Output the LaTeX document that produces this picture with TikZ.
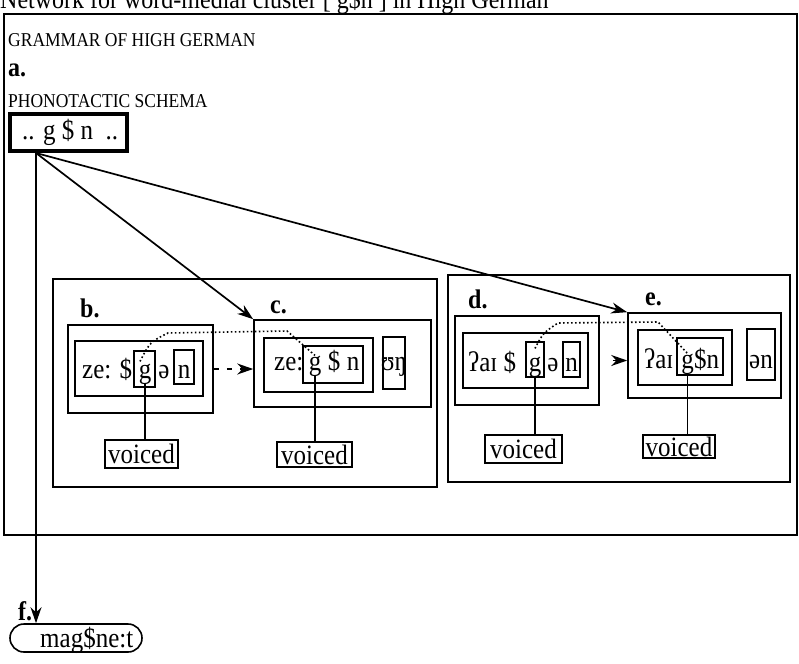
\documentclass[tikz,border=0pt]{standalone}
\usepackage{fontspec}
\setmainfont{Liberation Serif}
\usepackage{graphicx}
\usetikzlibrary{arrows.meta,fit,calc}
\newcommand{\vs}[1]{\scalebox{1}[1.12]{#1}}
\tikzset{
  bx/.style={draw, line width=1.6pt, inner sep=0pt},
  txt/.style={inner sep=0pt, anchor=base, font=\fontsize{25}{28}\selectfont},
  txtw/.style={txt, anchor=base west},
  small/.style={inner sep=0pt, anchor=base west, font=\fontsize{17.5}{20}\selectfont},
  lbl/.style={inner sep=0pt, anchor=base west, font=\fontsize{24}{28}\selectfont\bfseries},
  arr/.style={-{Stealth[length=16pt,width=11pt]}, line width=1.7pt},
  dots/.style={line width=1.6pt, dash pattern=on 1.6pt off 2.4pt},
  link/.style={line width=1.6pt},
  vbox/.style={bx, font=\fontsize{25}{28}\selectfont}
}
\begin{document}
\begin{tikzpicture}[x=1pt,y=-1pt]
\useasboundingbox (0,0) rectangle (799,663);
% title (cut off at top, as in the reference)
\node[inner sep=0pt, anchor=base west, font=\fontsize{24}{28}\selectfont] (title) at (0,9) {\vs{Network for word-medial cluster [ g\$n ] in High German}};
% grammar box
\node[bx, fit={(4,14) (797,535)}] (grammar) {};
\node[small] (gt) at (8,47) {\vs{GRAMMAR OF HIGH GERMAN}};
\node[lbl] (la) at (8,77) {\vs{a.}};
\node[small] (pst) at (8,108) {\vs{PHONOTACTIC SCHEMA}};
\node[draw, line width=4pt, inner sep=0pt, fit={(10,114) (127,151)}] (ph) {};
\node[txtw] (pht) at (22,140) {\vs{.. g \$ n\ \ ..}};
% groups
\node[bx, fit={(53,279) (437,487)}] (G1) {};
\node[bx, fit={(448,275) (790,482)}] (G2) {};
% b
\node[lbl] (lb) at (80,317) {\vs{b.}};
\node[bx, fit={(68,325) (213,413)}] (bO) {};
\node[bx, fit={(75,341) (203,396)}] (bI) {};
\node[bx, fit={(134,351) (155,387)}] (bgbox) {};
\node[bx, fit={(174,350) (194,384)}] (bnbox) {};
\node[txtw] (bze) at (82,378) {\vs{ze: \$}};
\node[txt] (gB) at (145,378) {\vs{g}};
\node[txt] (bschwa) at (164,378) {\vs{ə}};
\node[txt] (bn) at (184,378) {\vs{n}};
\node[vbox, fit={(105,440) (178,468)}] (vB) {};
\node[txt, anchor=center] (vBt) at (vB.center) {\vs{voiced}};
% c
\node[lbl] (lc) at (270,313) {\vs{c.}};
\node[bx, fit={(254,320) (431,407)}] (cO) {};
\node[bx, fit={(264,338) (373,392)}] (cI) {};
\node[bx, fit={(303,346) (363,383)}] (cgbox) {};
\node[bx, fit={(383,337) (405,389)}] (cubox) {};
\node[txtw] (cze) at (274,370) {\vs{ze:}};
\node[txt] (gC) at (315,370) {\vs{g}};
\node[txt] (cdol) at (334,370) {\vs{\$}};
\node[txt] (cn) at (353,370) {\vs{n}};
\node[txt] (cun) at (394,370) {\vs{ʊŋ}};
\node[vbox, fit={(277,442) (352,467)}] (vC) {};
\node[txt, anchor=center] (vCt) at (vC.center) {\vs{voiced}};
% d
\node[lbl] (ld) at (468,308) {\vs{d.}};
\node[bx, fit={(455,316) (599,405)}] (dO) {};
\node[bx, fit={(463,333) (588,388)}] (dI) {};
\node[bx, fit={(526,342) (544,377)}] (dgbox) {};
\node[bx, fit={(563,342) (580,377)}] (dnbox) {};
\node[txtw] (dai) at (468,371) {\vs{ʔaɪ \$}};
\node[txt] (gD) at (535,371) {\vs{g}};
\node[txt] (dschwa) at (553,371) {\vs{ə}};
\node[txt] (dn) at (571.5,371) {\vs{n}};
\node[vbox, fit={(485,435) (562,463)}] (vD) {};
\node[txt, anchor=center] (vDt) at (vD.center) {\vs{voiced}};
% e
\node[lbl] (le) at (645,305) {\vs{e.}};
\node[bx, fit={(628,313) (781,398)}] (eO) {};
\node[bx, fit={(638,330) (732,385)}] (eI) {};
\node[bx, fit={(677,338) (723,375)}] (egbox) {};
\node[bx, fit={(747,329) (775,380)}] (enbox) {};
\node[txtw] (eai) at (644,368) {\vs{ʔaɪ}};
\node[txt] (gE) at (687.5,368) {\vs{g}};
\node[txtw] (edn) at (gE.base east) {\vs{\$n}};
\node[txt] (een) at (761,368) {\vs{ən}};
\node[vbox, fit={(643,435) (715,458)}] (vE) {};
\node[txt, anchor=center] (vEt) at (vE.center) {\vs{voiced}};
% f
\node[lbl] (lf) at (18,620) {\vs{f.}};
\node[draw, line width=1.6pt, rounded corners=14pt, inner sep=0pt, fit={(10,624) (142,652)}] (fb) {};
\node[txtw] (ft) at (40,647) {\vs{mag\$ne:t}};
% connectors
\coordinate (phs) at ($(ph.south west)+(28,0)$);
\draw[arr] (phs) -- (cO.north west);
\draw[arr] (phs) -- (eO.north west);
\draw[arr] (phs) -- (phs |- fb.north);
\draw[arr, dash pattern=on 5pt off 8pt] (bO.east) -- (bO.east -| cO.west);
\draw[arr, shorten <=13pt] (dO.east) -- (dO.east -| eO.west);
\draw[link] (gB.south) -- (gB.south |- vB.north);
\draw[link] (gC.south) -- (gC.south |- vC.north);
\draw[link] (gD.south) -- (gD.south |- vD.north);
\draw[link] (gE.south) -- (gE.south |- vE.north);
\draw[dots] ($(gB.north)+(-5,-2)$) .. controls (150,342) .. (168,333) -- (287,331) -- (gC.north);
\draw[dots] ($(gD.north)+(0,-8)$) .. controls (543,333) .. (558,323) -- (658,322) -- (gE.north);
\end{tikzpicture}
\end{document}
